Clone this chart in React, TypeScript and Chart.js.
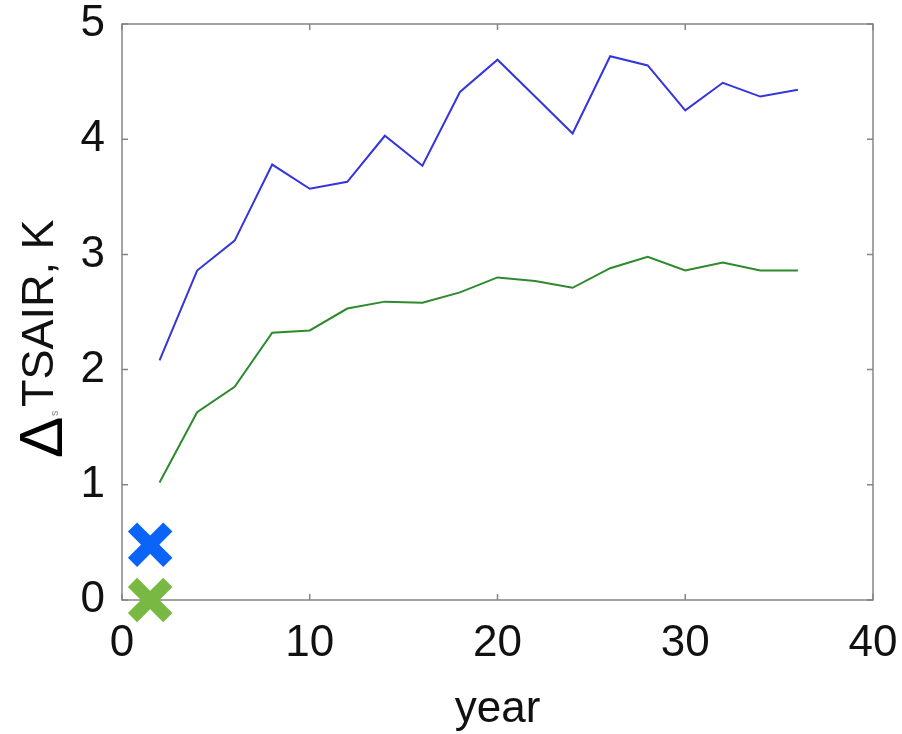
import React, { useEffect, useRef } from "react";
import { Chart, registerables } from "chart.js";

Chart.register(...registerables);

const years = [2, 4, 6, 8, 10, 12, 14, 16, 18, 20, 22, 24, 26, 28, 30, 32, 34, 36];
const blueSeries = [2.08, 2.86, 3.12, 3.78, 3.57, 3.63, 4.03, 3.77, 4.41, 4.69, 4.37, 4.05, 4.72, 4.64, 4.25, 4.49, 4.37, 4.43];
const greenSeries = [1.02, 1.63, 1.85, 2.32, 2.34, 2.53, 2.59, 2.58, 2.67, 2.8, 2.77, 2.71, 2.88, 2.98, 2.86, 2.93, 2.86, 2.86];
const xTickValues = [0, 10, 20, 30, 40];
const yTickValues = [0, 1, 2, 3, 4, 5];
const markerX = 1.5;
const blueMarkerY = 0.48;
const greenMarkerY = 0.0;

const xTitle = "year";
const yTitleDelta = "Δ";
const yTitleSub = "s";
const yTitleRest = "TSAIR, K";

const FONT = "'Liberation Sans', Arial, Helvetica, sans-serif";

const framePlugin = {
  id: "frame",
  beforeDatasetsDraw(chart: any) {
    const { ctx, chartArea } = chart;
    const { left, right, top, bottom } = chartArea;
    const xs = chart.scales.x;
    const ys = chart.scales.y;
    ctx.save();
    ctx.strokeStyle = "#858585";
    ctx.lineWidth = 1.5;
    ctx.strokeRect(left, top, right - left, bottom - top);
    const tl = 6;
    ctx.beginPath();
    for (const v of xTickValues) {
      const px = xs.getPixelForValue(v);
      ctx.moveTo(px, bottom);
      ctx.lineTo(px, bottom - tl);
      ctx.moveTo(px, top);
      ctx.lineTo(px, top + tl);
    }
    for (const v of yTickValues) {
      const py = ys.getPixelForValue(v);
      ctx.moveTo(left, py);
      ctx.lineTo(left + tl, py);
      ctx.moveTo(right, py);
      ctx.lineTo(right - tl, py);
    }
    ctx.stroke();
    ctx.restore();
  },
  afterDraw(chart: any) {
    const { ctx, chartArea } = chart;
    ctx.save();
    ctx.fillStyle = "#111";
    ctx.font = `44px ${FONT}`;
    ctx.textAlign = "center";
    ctx.textBaseline = "alphabetic";
    ctx.fillText(xTitle, (chartArea.left + chartArea.right) / 2, 722);
    ctx.translate(62, 458);
    ctx.rotate(-Math.PI / 2);
    ctx.textAlign = "left";
    ctx.font = `62px ${FONT}`;
    ctx.fillStyle = "#000";
    ctx.fillText(yTitleDelta, 0, 0);
    ctx.font = `11px ${FONT}`;
    ctx.fillStyle = "#888";
    ctx.fillText(yTitleSub, 42, -4);
    ctx.fillStyle = "#111";
    ctx.font = `45px ${FONT}`;
    ctx.fillText(yTitleRest, 51, -9);
    ctx.restore();
  },
};

const zeroPad = (s: any) => {
  s.paddingTop = 0;
  s.paddingBottom = 0;
  s.paddingLeft = 0;
  s.paddingRight = 0;
};

export default function App() {
  const ref = useRef<HTMLCanvasElement | null>(null);
  useEffect(() => {
    if (!ref.current) return;
    const chart = new Chart(ref.current, {
      type: "line",
      data: {
        datasets: [
          {
            label: "blue",
            data: years.map((x, i) => ({ x, y: blueSeries[i] })),
            borderColor: "#3535dc",
            borderWidth: 2,
            pointRadius: 0,
            tension: 0,
            fill: false,
          },
          {
            label: "green",
            data: years.map((x, i) => ({ x, y: greenSeries[i] })),
            borderColor: "#2c8a2c",
            borderWidth: 2,
            pointRadius: 0,
            tension: 0,
            fill: false,
          },
          {
            label: "blue marker",
            data: [{ x: markerX, y: blueMarkerY }],
            showLine: false,
            pointStyle: "crossRot",
            pointRadius: 25,
            pointBorderWidth: 13,
            borderColor: "#0a64f8",
            pointBorderColor: "#0a64f8",
            clip: false,
          } as any,
          {
            label: "green marker",
            data: [{ x: markerX, y: greenMarkerY }],
            showLine: false,
            pointStyle: "crossRot",
            pointRadius: 25,
            pointBorderWidth: 13,
            borderColor: "#79b943",
            pointBorderColor: "#79b943",
            clip: false,
          } as any,
        ],
      },
      options: {
        animation: false,
        responsive: false,
        events: [],
        layout: { autoPadding: false, padding: { top: 24, right: 29, left: 0, bottom: 0 } },
        plugins: { legend: { display: false }, tooltip: { enabled: false } },
        scales: {
          x: {
            type: "linear",
            min: 0,
            max: 40,
            afterBuildTicks: (s: any) => {
              s.ticks = xTickValues.map((v) => ({ value: v }));
            },
            afterFit: (s: any) => {
              s.height = 134;
              zeroPad(s);
            },
            grid: { display: true, drawOnChartArea: false, drawTicks: false, color: "rgba(0,0,0,0)" },
            border: { display: false },
            ticks: {
              color: "#111",
              font: { size: 44, family: FONT, lineHeight: 1.0 },
              padding: 22,
              maxRotation: 0,
              autoSkip: false,
            },
          },
          y: {
            type: "linear",
            min: 0,
            max: 5,
            afterBuildTicks: (s: any) => {
              s.ticks = yTickValues.map((v) => ({ value: v }));
            },
            afterFit: (s: any) => {
              s.width = 122;
              zeroPad(s);
            },
            grid: { display: true, drawOnChartArea: false, drawTicks: false, color: "rgba(0,0,0,0)" },
            border: { display: false },
            ticks: {
              color: "#111",
              font: { size: 44, family: FONT, lineHeight: 1.0 },
              padding: 17,
              autoSkip: false,
            },
          },
        },
      },
      plugins: [framePlugin],
    });
    return () => chart.destroy();
  }, []);
  return (
    <div style={{ position: "absolute", left: 0, top: 0, width: 902, height: 734, background: "#fff" }}>
      <canvas ref={ref} width={902} height={734} style={{ width: 902, height: 734, display: "block" }} />
    </div>
  );
}
